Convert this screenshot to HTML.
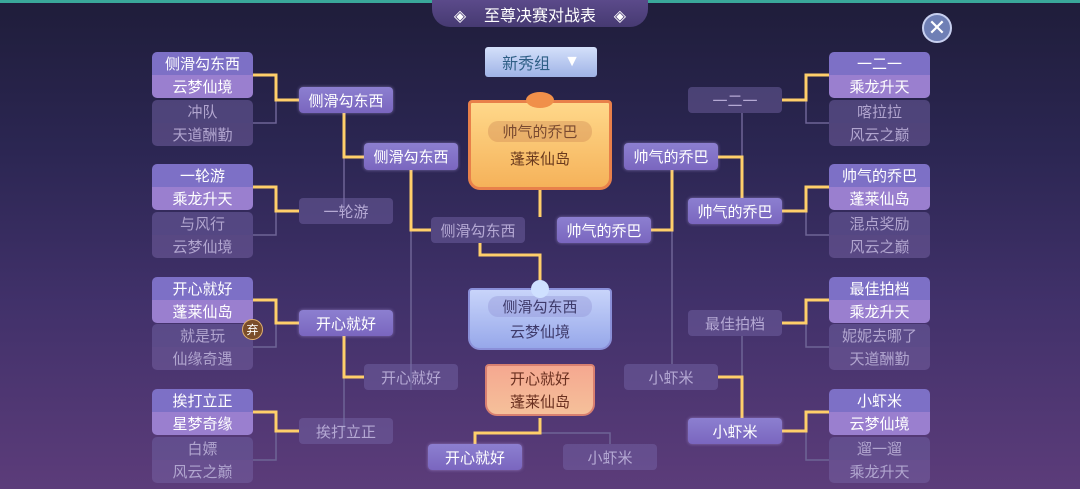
<!DOCTYPE html><html><head><meta charset="utf-8"><style>
*{margin:0;padding:0;box-sizing:border-box}
body{width:1080px;height:489px;overflow:hidden;position:relative;font-family:"Liberation Sans","Noto Sans CJK SC",sans-serif;background:linear-gradient(180deg,#1f1d3a 0%,#2b2652 30%,#41316a 62%,#5c3c7a 100%)}
.b{position:absolute;display:flex;align-items:center;justify-content:center;font-size:15px;border-radius:4px}
.on{background:linear-gradient(180deg,#8c7fd0,#7a66bf);color:#fff;box-shadow:0 0 3px rgba(200,180,255,.5)}
.off{background:rgba(120,105,170,.45);color:#b5a9d4}
.pair{position:absolute;width:101px;height:46px;border-radius:5px;overflow:hidden}
.pair div{height:23px;display:flex;align-items:center;justify-content:center;font-size:15px}
.pon div:first-child{background:#7d70c6;color:#fff}.pon div:last-child{background:#9a7fcf;color:#fff}
.poff div:first-child{background:rgba(110,95,160,.55);color:#b1a5cf}.poff div:last-child{background:rgba(120,100,165,.5);color:#b1a5cf}
svg{position:absolute;left:0;top:0}
.ban{position:absolute;display:flex;flex-direction:column;align-items:center;justify-content:center;border-radius:4px 4px 12px 12px}
.ban span{font-size:15px;margin:3px 0}
</style></head><body>
<div style="position:absolute;left:0;top:0;width:1080px;height:3px;background:#3aa89a"></div>
<div style="position:absolute;left:432px;top:0;width:216px;height:27px;background:linear-gradient(180deg,#5b4a8a,#463a72);border-radius:0 0 18px 18px;color:#fff;font-size:16px;display:flex;align-items:center;justify-content:center">◈&nbsp;&nbsp;&nbsp;&nbsp;至尊决赛对战表&nbsp;&nbsp;&nbsp;&nbsp;◈</div>
<div style="position:absolute;left:922px;top:13px;width:30px;height:30px;border-radius:50%;background:#6f7fb5;border:2px solid #c8d0f0;color:#fff;font-size:22px;display:flex;align-items:center;justify-content:center">✕</div>
<div style="position:absolute;left:485px;top:47px;width:112px;height:30px;background:linear-gradient(180deg,#d4e0fa,#9fb3e6);border-radius:3px;color:#2f5f86;font-size:16px;display:flex;align-items:center;justify-content:center">新秀组 <span style="margin-left:14px;color:#fff">▼</span></div>
<svg width="1080" height="489" fill="none" stroke-width="2">
<g stroke="#6e6496" stroke-width="1.5">
<path d="M253 123H276V100M253 235H276V211M253 347H276V323M253 460H276V431M344 211V157M344 431V377M411 390V230M829 123H806V100M829 235H806V211M829 347H806V323M829 460H806V431M742 113V157M742 336V377M672 364V230M610 444V433H540"/>
</g>
<g stroke="#ffcf6a" stroke-width="3">
<path d="M253 75H276V100H299M253 187H276V211H299M253 300H276V323H299M253 412H276V431H299M344 113V157H364M344 336V377H364M411 170V230H431M480 243V255H540V285M540 217V190M829 75H806V100H782M829 187H806V211H782M829 300H806V323H782M829 412H806V431H782M742 198V157H718M742 418V377H718M672 170V230H651M475 444V433H540V418"/>
</g>
</svg>
<div class="pair pon" style="left:152px;top:52px"><div>侧滑勾东西</div><div>云梦仙境</div></div>
<div class="pair poff" style="left:152px;top:100px"><div>冲队</div><div>天道酬勤</div></div>
<div class="pair pon" style="left:152px;top:164px"><div>一轮游</div><div>乘龙升天</div></div>
<div class="pair poff" style="left:152px;top:212px"><div>与风行</div><div>云梦仙境</div></div>
<div class="pair pon" style="left:152px;top:277px"><div>开心就好</div><div>蓬莱仙岛</div></div>
<div class="pair poff" style="left:152px;top:324px"><div>就是玩</div><div>仙缘奇遇</div></div>
<div class="pair pon" style="left:152px;top:389px"><div>挨打立正</div><div>星梦奇缘</div></div>
<div class="pair poff" style="left:152px;top:437px"><div>白嫖</div><div>风云之巅</div></div>
<div style="position:absolute;left:242px;top:319px;width:21px;height:21px;border-radius:50%;background:#7a4d2a;border:1px solid #e0b070;color:#fff;font-size:12px;display:flex;align-items:center;justify-content:center">弃</div>
<div class="pair pon" style="left:829px;top:52px"><div>一二一</div><div>乘龙升天</div></div>
<div class="pair poff" style="left:829px;top:100px"><div>喀拉拉</div><div>风云之巅</div></div>
<div class="pair pon" style="left:829px;top:164px"><div>帅气的乔巴</div><div>蓬莱仙岛</div></div>
<div class="pair poff" style="left:829px;top:212px"><div>混点奖励</div><div>风云之巅</div></div>
<div class="pair pon" style="left:829px;top:277px"><div>最佳拍档</div><div>乘龙升天</div></div>
<div class="pair poff" style="left:829px;top:324px"><div>妮妮去哪了</div><div>天道酬勤</div></div>
<div class="pair pon" style="left:829px;top:389px"><div>小虾米</div><div>云梦仙境</div></div>
<div class="pair poff" style="left:829px;top:437px"><div>遛一遛</div><div>乘龙升天</div></div>
<div class="b on" style="left:299px;top:87px;width:94px;height:26px">侧滑勾东西</div>
<div class="b off" style="left:299px;top:198px;width:94px;height:26px">一轮游</div>
<div class="b on" style="left:299px;top:310px;width:94px;height:26px">开心就好</div>
<div class="b off" style="left:299px;top:418px;width:94px;height:26px">挨打立正</div>
<div class="b on" style="left:364px;top:143px;width:94px;height:27px">侧滑勾东西</div>
<div class="b off" style="left:364px;top:364px;width:94px;height:26px">开心就好</div>
<div class="b off" style="left:431px;top:217px;width:94px;height:26px">侧滑勾东西</div>
<div class="b on" style="left:557px;top:217px;width:94px;height:26px">帅气的乔巴</div>
<div class="b off" style="left:688px;top:87px;width:94px;height:26px">一二一</div>
<div class="b on" style="left:688px;top:198px;width:94px;height:26px">帅气的乔巴</div>
<div class="b off" style="left:688px;top:310px;width:94px;height:26px">最佳拍档</div>
<div class="b on" style="left:688px;top:418px;width:94px;height:26px">小虾米</div>
<div class="b on" style="left:624px;top:143px;width:94px;height:27px">帅气的乔巴</div>
<div class="b off" style="left:624px;top:364px;width:94px;height:26px">小虾米</div>
<div class="b on" style="left:428px;top:444px;width:94px;height:26px">开心就好</div>
<div class="b off" style="left:563px;top:444px;width:94px;height:26px">小虾米</div>
<div class="ban" style="left:468px;top:100px;width:144px;height:90px;background:linear-gradient(180deg,#ffd88a,#f5b25a);border:3px solid #e8804a;color:#6a3a1e"><span style="background:rgba(200,130,80,.35);padding:0 14px;border-radius:10px;color:#7a4a30">帅气的乔巴</span><span>蓬莱仙岛</span></div>
<div style="position:absolute;left:526px;top:92px;width:28px;height:16px;border-radius:50%;background:#f0904a"></div>
<div class="ban" style="left:468px;top:288px;width:144px;height:62px;background:linear-gradient(180deg,#c8d4fa,#97a8ea);border:2px solid #8a8fd8;color:#3e3a6a"><span style="background:rgba(140,140,210,.35);padding:0 14px;border-radius:10px;margin:2px">侧滑勾东西</span><span style="margin:2px">云梦仙境</span></div>
<div style="position:absolute;left:531px;top:280px;width:18px;height:18px;border-radius:50%;background:#cfe0ff"></div>
<div class="ban" style="left:485px;top:364px;width:110px;height:52px;background:linear-gradient(180deg,#f5a890,#f5c09a);border:2px solid #d88070;color:#6a3020"><span style="margin:1px">开心就好</span><span style="margin:1px">蓬莱仙岛</span></div>
</body></html>
